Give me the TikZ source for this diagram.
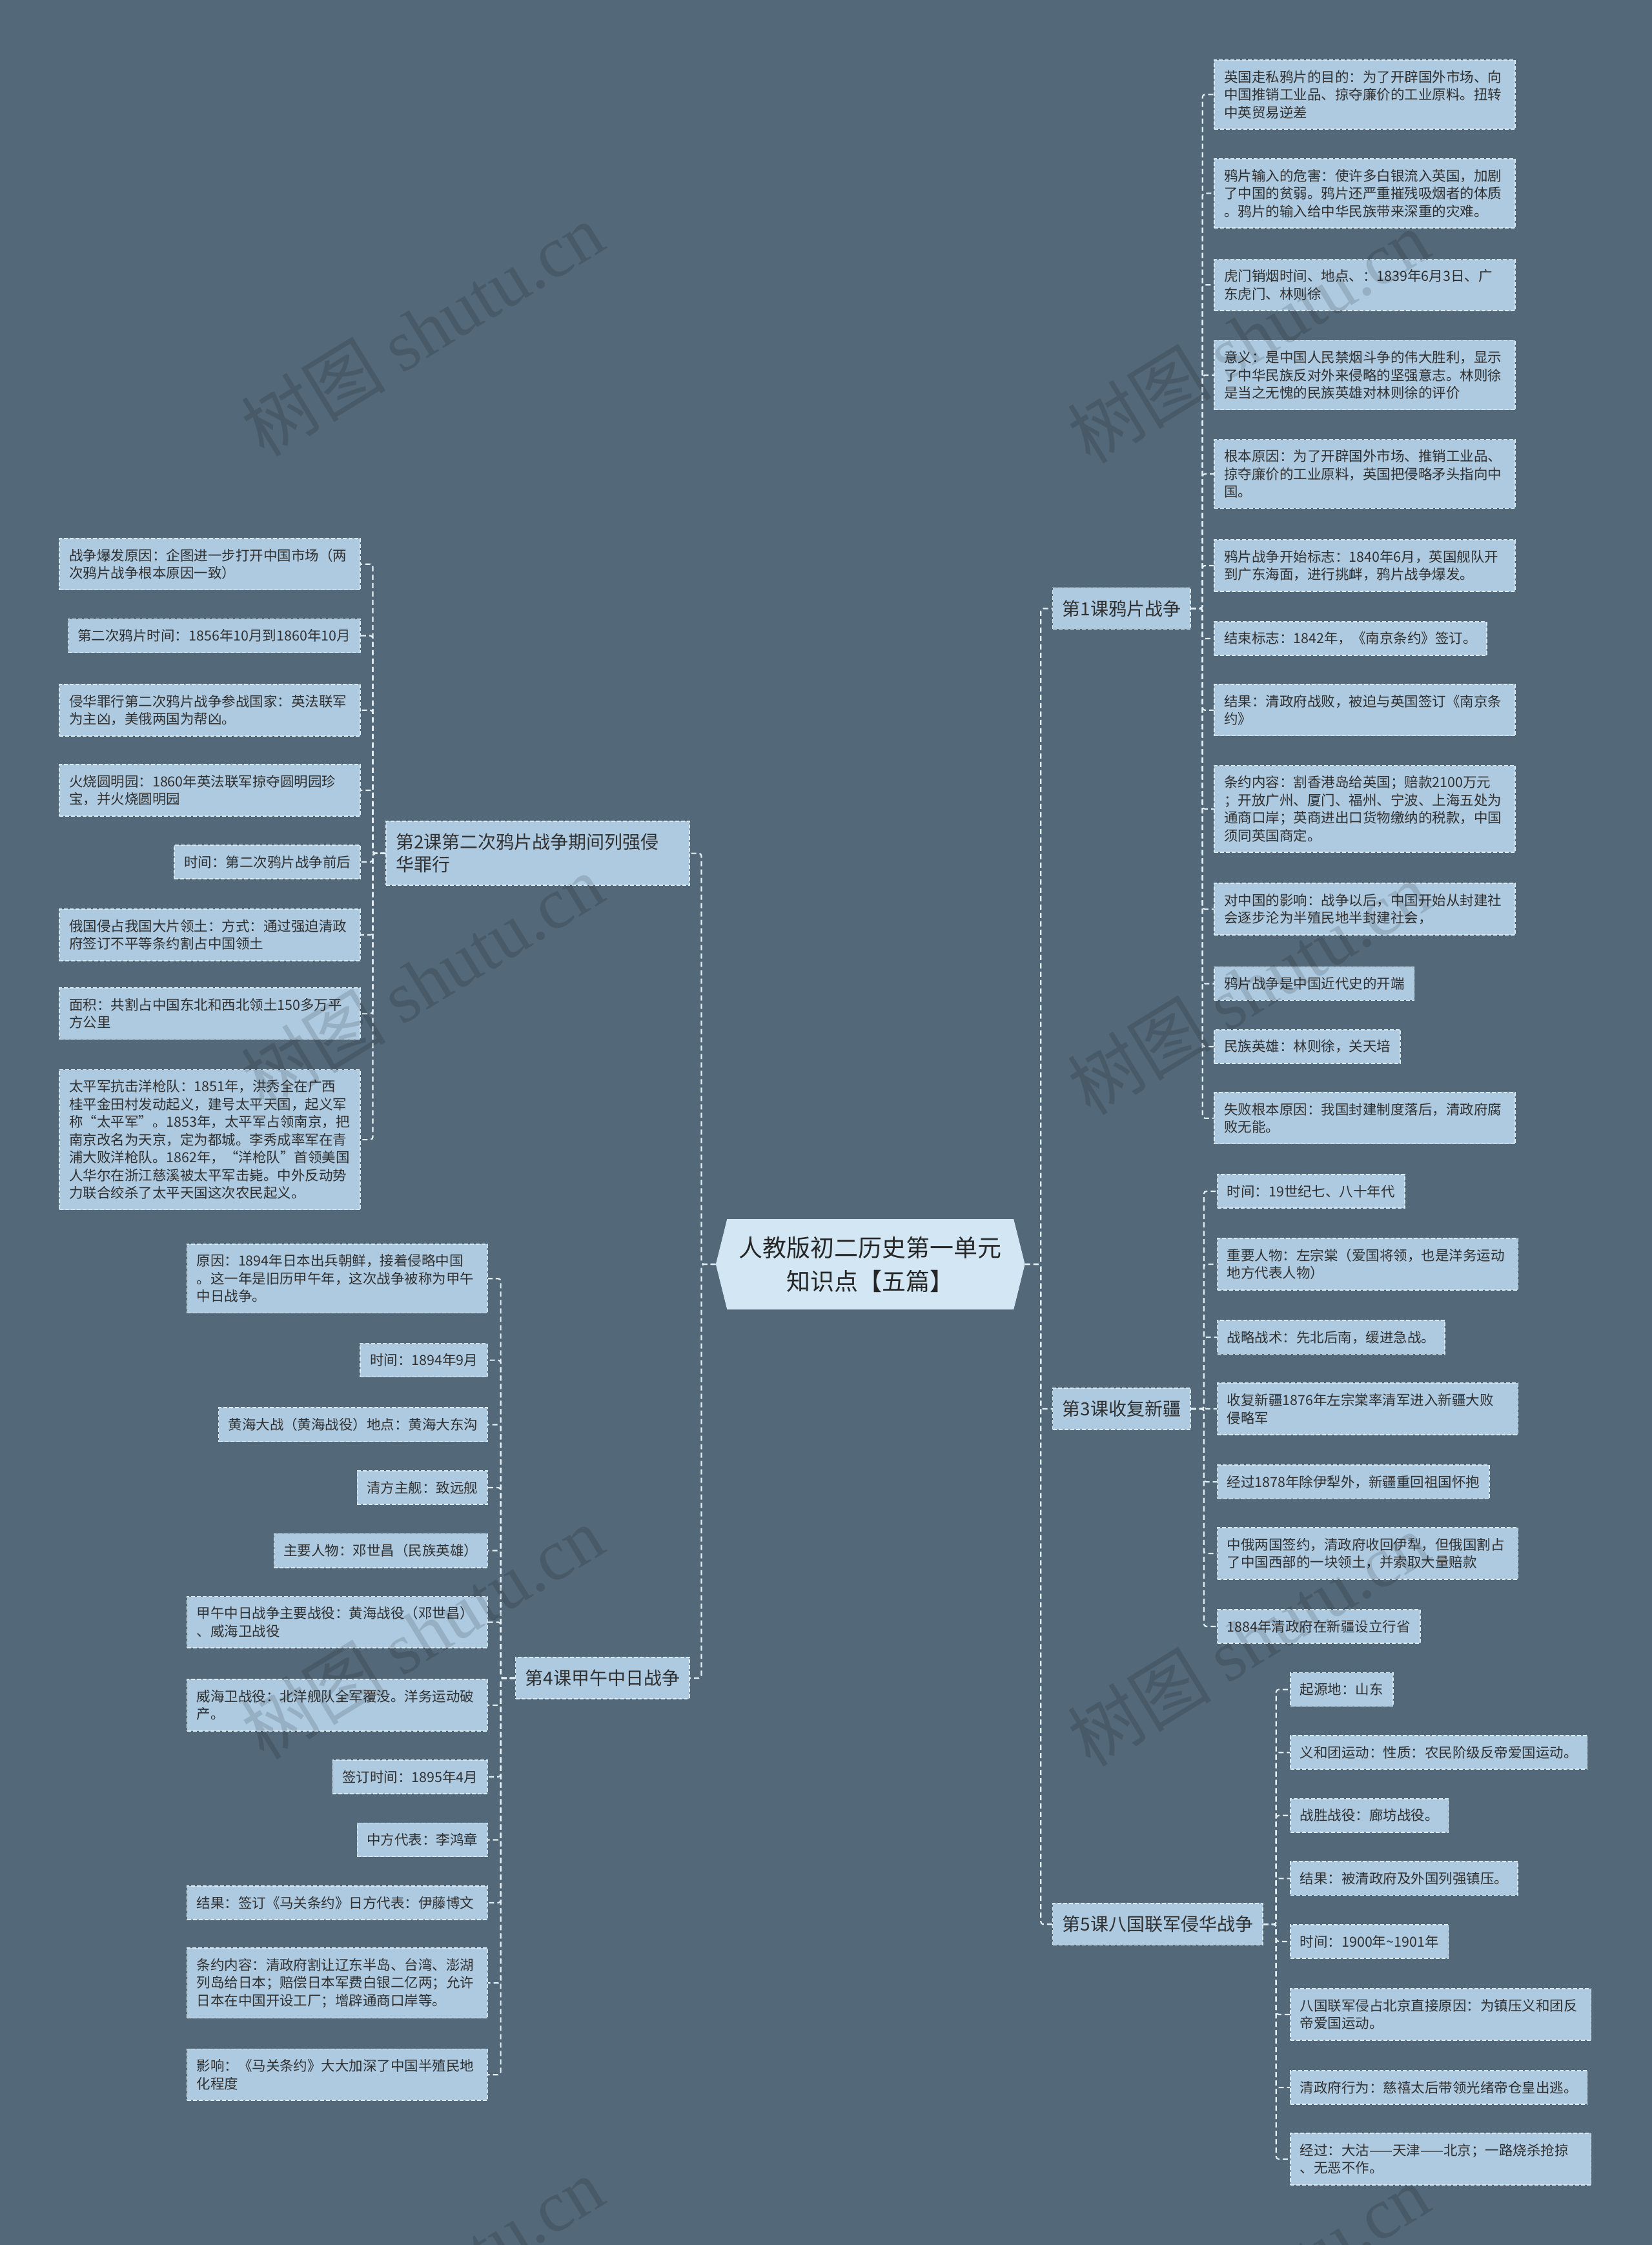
\documentclass[tikz,border=0pt]{standalone}
\usepackage{fontspec}
\setmainfont{Noto Sans CJK SC}
\newfontfamily\wmserif{Liberation Serif}
\usetikzlibrary{shapes.symbols}
\definecolor{bgc}{HTML}{536878}
\definecolor{leafc}{HTML}{ADCAE0}
\definecolor{rootc}{HTML}{D2E7F3}
\definecolor{edgec}{HTML}{DCEAF4}
\definecolor{linec}{HTML}{E4EEF5}
\definecolor{txtc}{HTML}{303030}
\begin{document}
\begin{tikzpicture}[x=2.2184pt,y=-2.2184pt,
  leaf/.style={draw=edgec, dash pattern=on 6pt off 3pt, line width=1.6pt, fill=leafc, text=txtc,
    font=\fontsize{21.5}{27.5}\selectfont, align=left, inner xsep=15pt, inner ysep=16pt},
  wide/.style={text width=436pt},
  R/.style={leaf, anchor=west},
  L/.style={leaf, anchor=east},
  sect/.style={leaf, font=\fontsize{28}{35}\selectfont, inner ysep=19pt},
  conn/.style={draw=linec, line width=2.2pt, dash pattern=on 8pt off 5pt, rounded corners=4pt},
  wm/.style={text=black, opacity=0.13, rotate=31.5, font=\fontsize{112}{112}\selectfont}
]
\path[use as bounding box, fill=bgc] (0,0) rectangle (1154,1568);
\clip (0,0) rectangle (1154,1568);

% root
\node[shape=signal, signal to=east and west, signal pointer angle=152, fill=rootc,
  minimum width=479pt, minimum height=140pt, inner sep=0pt, align=center, text=black!85,
  font=\fontsize{37}{52}\selectfont] (root) at (608,883) {人教版初二历史第一单元\\知识点【五篇】};

% sections
\node[sect, anchor=west] (sec1) at (735,425) {第1课鸦片战争};
\node[sect, anchor=west] (sec3) at (735,984) {第3课收复新疆};
\node[sect, anchor=west] (sec5) at (735,1344) {第5课八国联军侵华战争};
\node[sect, anchor=east, align=left, text width=440pt] (sec2) at (482,596) {第2课第二次鸦片战争期间列强侵\\华罪行};
\node[sect, anchor=east] (sec4) at (482,1172) {第4课甲午中日战争};

% section 1 leaves
\node[R, wide] (a1) at (848,66) {英国走私鸦片的目的：为了开辟国外市场、向\\中国推销工业品、掠夺廉价的工业原料。扭转\\中英贸易逆差};
\node[R, wide] (a2) at (848,135) {鸦片输入的危害：使许多白银流入英国，加剧\\了中国的贫弱。鸦片还严重摧残吸烟者的体质\\。鸦片的输入给中华民族带来深重的灾难。};
\node[R, wide] (a3) at (848,199) {虎门销烟时间、地点、：1839年6月3日、广\\东虎门、林则徐};
\node[R, wide] (a4) at (848,262) {意义：是中国人民禁烟斗争的伟大胜利，显示\\了中华民族反对外来侵略的坚强意志。林则徐\\是当之无愧的民族英雄对林则徐的评价};
\node[R, wide] (a5) at (848,331) {根本原因：为了开辟国外市场、推销工业品、\\掠夺廉价的工业原料，英国把侵略矛头指向中\\国。};
\node[R, wide] (a6) at (848,395) {鸦片战争开始标志：1840年6月，英国舰队开\\到广东海面，进行挑衅，鸦片战争爆发。};
\node[R] (a7) at (848,446) {结束标志：1842年，《南京条约》签订。};
\node[R, wide] (a8) at (848,496) {结果：清政府战败，被迫与英国签订《南京条\\约》};
\node[R, wide] (a9) at (848,565) {条约内容：割香港岛给英国；赔款2100万元\\；开放广州、厦门、福州、宁波、上海五处为\\通商口岸；英商进出口货物缴纳的税款，中国\\须同英国商定。};
\node[R, wide] (a10) at (848,635) {对中国的影响：战争以后，中国开始从封建社\\会逐步沦为半殖民地半封建社会，};
\node[R] (a11) at (848,687) {鸦片战争是中国近代史的开端};
\node[R] (a12) at (848,731) {民族英雄：林则徐，关天培};
\node[R, wide] (a13) at (848,781) {失败根本原因：我国封建制度落后，清政府腐\\败无能。};

% section 3 leaves
\node[R] (c1) at (850,832) {时间：19世纪七、八十年代};
\node[R, wide] (c2) at (850,883) {重要人物：左宗棠（爱国将领，也是洋务运动\\地方代表人物）};
\node[R] (c3) at (850,934) {战略战术：先北后南，缓进急战。};
\node[R, wide] (c4) at (850,984) {收复新疆1876年左宗棠率清军进入新疆大败\\侵略军};
\node[R] (c5) at (850,1035) {经过1878年除伊犁外，新疆重回祖国怀抱};
\node[R, wide] (c6) at (850,1085) {中俄两国签约，清政府收回伊犁，但俄国割占\\了中国西部的一块领土，并索取大量赔款};
\node[R] (c7) at (850,1136) {1884年清政府在新疆设立行省};

% section 5 leaves
\node[R] (e1) at (901,1180) {起源地：山东};
\node[R] (e2) at (901,1224) {义和团运动：性质：农民阶级反帝爱国运动。};
\node[R] (e3) at (901,1268) {战胜战役：廊坊战役。};
\node[R] (e4) at (901,1312) {结果：被清政府及外国列强镇压。};
\node[R] (e5) at (901,1356) {时间：1900年\char"7E 1901年};
\node[R, wide] (e6) at (901,1407) {八国联军侵占北京直接原因：为镇压义和团反\\帝爱国运动。};
\node[R] (e7) at (901,1458) {清政府行为：慈禧太后带领光绪帝仓皇出逃。};
\node[R, wide] (e8) at (901,1508) {经过：大沽——天津——北京；一路烧杀抢掠\\、无恶不作。};

% section 2 leaves
\node[L, wide] (b1) at (252,394) {战争爆发原因：企图进一步打开中国市场（两\\次鸦片战争根本原因一致）};
\node[L] (b2) at (252,444) {第二次鸦片时间：1856年10月到1860年10月};
\node[L, wide] (b3) at (252,496) {侵华罪行第二次鸦片战争参战国家：英法联军\\为主凶，美俄两国为帮凶。};
\node[L, wide] (b4) at (252,552) {火烧圆明园：1860年英法联军掠夺圆明园珍\\宝，并火烧圆明园};
\node[L] (b5) at (252,602) {时间：第二次鸦片战争前后};
\node[L, wide] (b6) at (252,653) {俄国侵占我国大片领土：方式：通过强迫清政\\府签订不平等条约割占中国领土};
\node[L, wide] (b7) at (252,708) {面积：共割占中国东北和西北领土150多万平\\方公里};
\node[L, wide] (b8) at (252,796) {太平军抗击洋枪队：1851年，洪秀全在广西\\桂平金田村发动起义，建号太平天国，起义军\\称“太平军”。1853年，太平军占领南京，把\\南京改名为天京，定为都城。李秀成率军在青\\浦大败洋枪队。1862年，“洋枪队”首领美国\\人华尔在浙江慈溪被太平军击毙。中外反动势\\力联合绞杀了太平天国这次农民起义。};

% section 4 leaves
\node[L, wide] (d1) at (341,893) {原因：1894年日本出兵朝鲜，接着侵略中国\\。这一年是旧历甲午年，这次战争被称为甲午\\中日战争。};
\node[L] (d2) at (341,950) {时间：1894年9月};
\node[L] (d3) at (341,995) {黄海大战（黄海战役）地点：黄海大东沟};
\node[L] (d4) at (341,1039) {清方主舰：致远舰};
\node[L] (d5) at (341,1083) {主要人物：邓世昌（民族英雄）};
\node[L, wide] (d6) at (341,1133) {甲午中日战争主要战役：黄海战役（邓世昌）\\、威海卫战役};
\node[L, wide] (d7) at (341,1191) {威海卫战役：北洋舰队全军覆没。洋务运动破\\产。};
\node[L] (d8) at (341,1241) {签订时间：1895年4月};
\node[L] (d9) at (341,1285) {中方代表：李鸿章};
\node[L, wide] (d10) at (341,1329) {结果：签订《马关条约》日方代表：伊藤博文};
\node[L, wide] (d11) at (341,1385) {条约内容：清政府割让辽东半岛、台湾、澎湖\\列岛给日本；赔偿日本军费白银二亿两；允许\\日本在中国开设工厂；增辟通商口岸等。};
\node[L, wide] (d12) at (341,1449) {影响：《马关条约》大大加深了中国半殖民地\\化程度};

% connectors
\draw[conn] (root.east) -- ++(11,0) |- (sec1.west);
\draw[conn] (root.east) -- ++(11,0) |- (sec3.west);
\draw[conn] (root.east) -- ++(11,0) |- (sec5.west);
\draw[conn] (root.west) -- ++(-10,0) |- (sec2.east);
\draw[conn] (root.west) -- ++(-10,0) |- (sec4.east);
\foreach \i in {1,...,13} \draw[conn] (sec1.east) -- ++(8,0) |- (a\i.west);
\foreach \i in {1,...,7} \draw[conn] (sec3.east) -- ++(9,0) |- (c\i.west);
\foreach \i in {1,...,8} \draw[conn] (sec5.east) -- ++(9,0) |- (e\i.west);
\foreach \i in {1,...,8} \draw[conn] (sec2.west) -- ++(-9,0) |- (b\i.east);
\foreach \i in {1,...,12} \draw[conn] (sec4.west) -- ++(-10,0) |- (d\i.east);

% watermarks
\node[wm] (wm1) at (295,230) {树图 {\wmserif shutu.cn}};
\node[wm] (wm2) at (872,235) {树图 {\wmserif shutu.cn}};
\node[wm] (wm3) at (295,685) {树图 {\wmserif shutu.cn}};
\node[wm] (wm4) at (872,690) {树图 {\wmserif shutu.cn}};
\node[wm] (wm5) at (295,1140) {树图 {\wmserif shutu.cn}};
\node[wm] (wm6) at (872,1145) {树图 {\wmserif shutu.cn}};
\node[wm] (wm7) at (295,1595) {树图 {\wmserif shutu.cn}};
\node[wm] (wm8) at (872,1600) {树图 {\wmserif shutu.cn}};
\end{tikzpicture}
\end{document}
